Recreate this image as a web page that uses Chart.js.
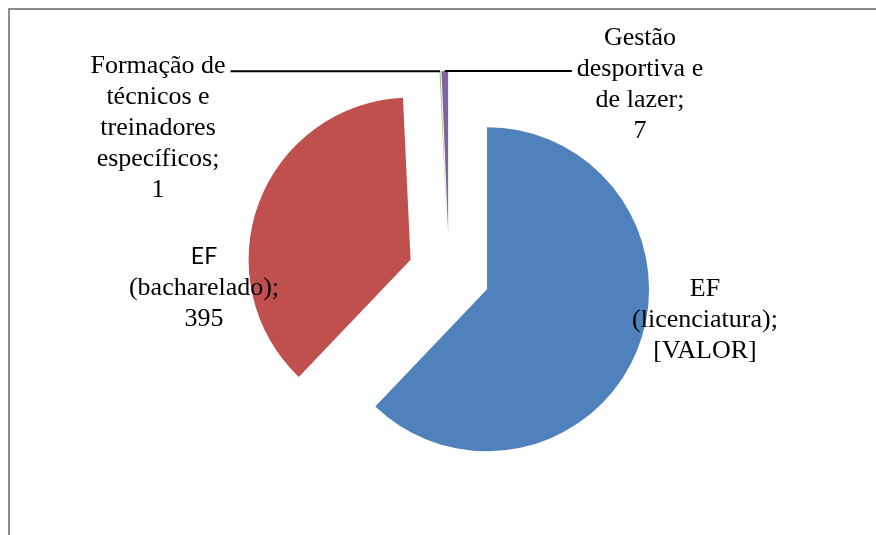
<!DOCTYPE html>
<html>
<head>
<meta charset="utf-8">
<script src="https://cdn.jsdelivr.net/npm/chart.js@4.4.0/dist/chart.umd.min.js"></script>
<style>
  body { margin: 0; background: #fff; }
  canvas { display: block; }
</style>
</head>
<body>
<canvas id="grafico" width="876" height="535"></canvas>
<script>
var categorias = ['EF (licenciatura)', 'EF (bacharelado)', 'Formação de técnicos e treinadores específicos', 'Gestão desportiva e de lazer'];
var quantidades = [661, 395, 1, 7];
var rotulosValor = ['[VALOR]', '395', '1', '7'];
var cores = ['#4F81BD', '#C0504D', '#9BBB59', '#8064A2'];

var afastamento = 41; // explosão das fatias, px
var fonteTexto = '26px "Liberation Serif", "Times New Roman", serif';

// posição (centro da 1a linha) de cada rótulo
var posRotulos = [
  { x: 705, y: 289 },
  { x: 204, y: 257, fonteLinha1: '23px Lato, sans-serif' },
  { x: 158, y: 66, linha: true },
  { x: 640, y: 38, linha: true }
];

function quebrar(ctx, texto, largura) {
  var palavras = texto.split(' ');
  var linhas = [];
  var atual = '';
  palavras.forEach(function(p) {
    var teste = atual ? atual + ' ' + p : p;
    if (atual && ctx.measureText(teste).width > largura) {
      linhas.push(atual);
      atual = p;
    } else {
      atual = teste;
    }
  });
  if (atual) linhas.push(atual);
  return linhas;
}

// afasta o centro de cada fatia ao longo do ângulo médio (pizza explodida)
var explodir = {
  id: 'explodir',
  afterDatasetUpdate: function(chart, args) {
    args.meta.data.forEach(function(arc) {
      var meio = (arc.startAngle + arc.endAngle) / 2;
      arc.x += Math.cos(meio) * afastamento;
      arc.y += Math.sin(meio) * afastamento;
    });
  }
};

var moldura = {
  id: 'moldura',
  beforeDraw: function(chart) {
    var ctx = chart.ctx;
    ctx.save();
    ctx.strokeStyle = '#8c8c8c';
    ctx.lineWidth = 2;
    ctx.beginPath();
    ctx.moveTo(9, chart.height);
    ctx.lineTo(9, 9);
    ctx.lineTo(chart.width, 9);
    ctx.stroke();
    ctx.restore();
  }
};

var rotulos = {
  id: 'rotulos',
  afterDatasetsDraw: function(chart) {
    var ctx = chart.ctx;
    var meta = chart.getDatasetMeta(0);
    var altLinha = 31;
    ctx.save();
    ctx.textAlign = 'center';
    ctx.textBaseline = 'middle';
    ctx.fillStyle = '#000';
    meta.data.forEach(function(arc, i) {
      var p = posRotulos[i];
      ctx.font = fonteTexto;
      var linhas = quebrar(ctx, categorias[i] + ';', 155);
      linhas.push(rotulosValor[i]);
      var bordas = [];
      linhas.forEach(function(l, k) {
        ctx.font = (k === 0 && p.fonteLinha1) ? p.fonteLinha1 : fonteTexto;
        var y = p.y + k * altLinha;
        ctx.fillText(l, p.x, y);
        var w = ctx.measureText(l).width;
        bordas.push({ y: y, esq: p.x - w / 2, dir: p.x + w / 2 });
      });

      if (p.linha) {
        var meio = (arc.startAngle + arc.endAngle) / 2;
        var tx = arc.x + Math.cos(meio) * arc.outerRadius;
        var ty = arc.y + Math.sin(meio) * arc.outerRadius;
        var perto = bordas.reduce(function(m, b) {
          return Math.abs(b.y - ty) < Math.abs(m.y - ty) ? b : m;
        });
        var fim = tx > p.x ? perto.dir + 5 : perto.esq - 5;
        ctx.strokeStyle = '#000';
        ctx.lineWidth = 2;
        ctx.beginPath();
        ctx.moveTo(tx, ty);
        ctx.lineTo(fim, ty);
        ctx.stroke();
      }
    });
    ctx.restore();
  }
};

var ctx = document.getElementById('grafico').getContext('2d');
var grafico = new Chart(ctx, {
  type: 'pie',
  data: {
    labels: categorias,
    datasets: [{
      label: 'Cursos',
      data: quantidades,
      backgroundColor: cores,
      borderWidth: 0,
      radius: 162
    }]
  },
  options: {
    responsive: false,
    animation: false,
    layout: { padding: { left: 22, top: 13, right: 0, bottom: 0 } },
    plugins: {
      legend: { display: false },
      tooltip: { enabled: true }
    }
  },
  plugins: [explodir, moldura, rotulos]
});
</script>
</body>
</html>
